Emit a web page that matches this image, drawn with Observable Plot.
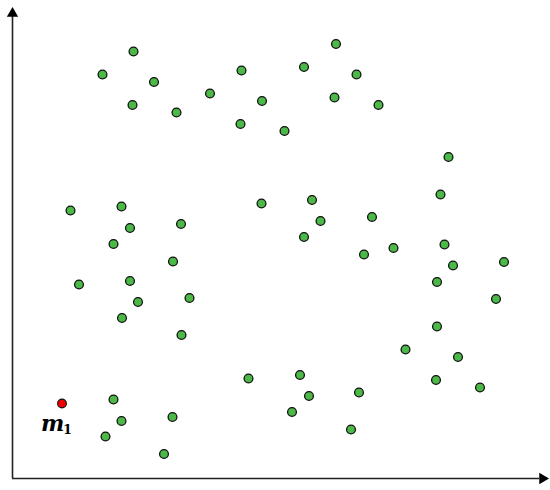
<!DOCTYPE html>
<html>
<head>
<meta charset="utf-8">
<script src="https://cdn.jsdelivr.net/npm/d3@7"></script>
<script src="https://cdn.jsdelivr.net/npm/@observablehq/plot@0.6"></script>
<style>
  html, body { margin: 0; padding: 0; background: #fff; }
  #chart { width: 550px; height: 490px; }
</style>
</head>
<body>
<div id="chart"></div>
<script>
// Green sample points (x, y in chart units, origin at the axes corner)
const greenX = [121, 90, 141.5, 120, 164, 197.5, 229, 249.5, 228, 272, 323.5, 291.5, 344, 322, 366,
  436, 428, 299.5, 308, 359.5, 291.5, 249, 58, 109, 117.5, 168.5, 101, 160.5, 66.5, 117.5, 125.5, 177, 109.5, 169,
  351.5, 381, 432, 440.5, 491.5, 424.5, 483.5, 424.5, 393, 445.5, 423.5, 467.5,
  236, 287.5, 296.5, 346.5, 279.5, 338.5, 101, 109, 160, 93, 151.5];
const greenY = [427, 404, 396.5, 373.5, 366, 385, 408, 377.5, 354.5, 347.5, 434.5, 411.5, 404, 381, 373.5,
  321.5, 284, 278.5, 257.5, 261.5, 241.5, 275, 268, 272, 250.5, 254.5, 234.5, 217, 194, 197.5, 176.5, 180.5, 160.5, 143.5,
  224, 230.5, 234, 213, 216.5, 196.5, 179.5, 152, 129, 121.5, 98.5, 91,
  100, 103.5, 82.5, 86, 66.5, 49, 79, 57.5, 61.5, 42, 24.5];
// Highlighted point m1
const redX = [49.5];
const redY = [75];
const labelMain = ["m"];
const labelSub = ["1"];
// Axis extents
const xMax = 533;
const yMax = 468;

const green = greenX.map((x, i) => ({x, y: greenY[i]}));
const red = redX.map((x, i) => ({x, y: redY[i], main: labelMain[i], sub: labelSub[i]}));

const chart = Plot.plot({
  width: 550,
  height: 490,
  marginLeft: 12,
  marginRight: 5,
  marginTop: 10,
  marginBottom: 12,
  x: {domain: [0, xMax], axis: null},
  y: {domain: [0, yMax], axis: null},
  marks: [
    Plot.ruleY([0], {x1: 0, x2: xMax - 6, stroke: "#222", strokeWidth: 1.6}),
    Plot.ruleX([0], {y1: 0, y2: yMax - 6, stroke: "#222", strokeWidth: 1.6}),
    Plot.dot([{x: xMax, y: 0}], {x: "x", y: "y", symbol: "triangle", r: 4.2, fill: "#000", stroke: "none", rotate: 90, dx: -3}),
    Plot.dot([{x: 0, y: yMax}], {x: "x", y: "y", symbol: "triangle", r: 4.2, fill: "#000", stroke: "none", dy: 3}),
    Plot.dot(green, {x: "x", y: "y", r: 4.4, fill: "#4cb848", stroke: "#111", strokeWidth: 1.3}),
    Plot.dot(red, {x: "x", y: "y", r: 4.4, fill: "#ee0000", stroke: "#111", strokeWidth: 1.1}),
    Plot.text(red, {x: "x", y: "y", text: "main", dx: -21, dy: 27, textAnchor: "start", fontSize: 22, fontWeight: "bold", fontStyle: "italic", fontFamily: "DejaVu Serif", fill: "#000", lineAnchor: "bottom"}),
    Plot.text(red, {x: "x", y: "y", text: "sub", dx: 1, dy: 30, textAnchor: "start", fontSize: 13, fontWeight: "bold", fontFamily: "DejaVu Serif", fill: "#000", lineAnchor: "bottom"})
  ]
});
document.getElementById("chart").appendChild(chart);
</script>
</body>
</html>
